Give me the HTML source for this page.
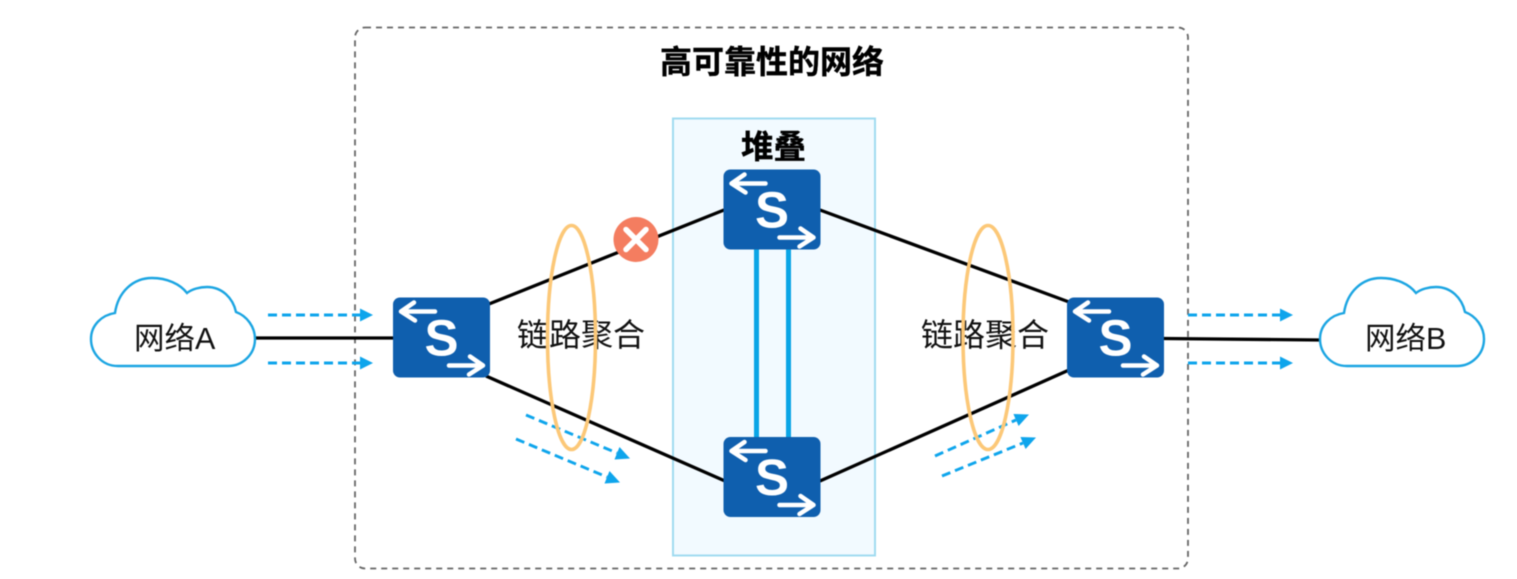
<!DOCTYPE html>
<html>
<head>
<meta charset="utf-8">
<style>
html,body{margin:0;padding:0;background:#fff;width:1517px;height:579px;overflow:hidden}
svg{display:block;filter:blur(.5px)}
text{font-family:"Liberation Sans","Noto Sans CJK SC",sans-serif;fill:#111}
.b{font-weight:700;fill:#000;stroke:#000;stroke-width:.4}
.s{font-weight:700;font-size:51px;fill:#fff;text-anchor:middle}
.a{fill:none;stroke:#fff;stroke-width:4.500;stroke-linecap:round;stroke-linejoin:round}
.k{stroke:#000;stroke-width:3.300;fill:none}
.d{stroke:#0ea5ec;stroke-width:2.900;stroke-dasharray:9 5;fill:none}
.h{fill:#0ea5ec}
.c{fill:#fff;stroke:#1ba5e2;stroke-width:2.400}
.e{fill:none;stroke:#fcc878;stroke-width:3.600}
</style>
</head>
<body>
<svg width="1517" height="579" viewBox="0 0 1517 579" xmlns="http://www.w3.org/2000/svg">
<rect x="355" y="27.500" width="833" height="541" rx="10" fill="#fff" stroke="#666" stroke-width="1.800" stroke-dasharray="6 5"/>
<rect x="673" y="118.500" width="202" height="437" fill="#f2faff" stroke="#a0dbf0" stroke-width="2"/>

<line x1="756.500" y1="245" x2="756.500" y2="440" stroke="#0aa5e6" stroke-width="5"/>
<line x1="788.500" y1="245" x2="788.500" y2="440" stroke="#0aa5e6" stroke-width="5"/>

<line class="k" x1="255" y1="338" x2="395" y2="338"/>
<line class="k" x1="1162" y1="338.500" x2="1320" y2="340"/>
<line class="k" x1="489" y1="304" x2="724" y2="210"/>
<line class="k" x1="486" y1="376" x2="725" y2="481"/>
<line class="k" x1="820" y1="210" x2="1069" y2="302"/>
<line class="k" x1="820" y1="481" x2="1069" y2="370"/>

<path class="c" d="M118 366C101 366 91 352 91 339C91 325 102 315 115 313C118 292 133 278 152 278C167 278 180 284 187 293C192 289 200 287 207 287C222 287 233 298 236 312C247 316 255 327 255 339C255 354 243 366 228 366Z"/>
<path class="c" transform="translate(1229 0)" d="M118 366C101 366 91 352 91 339C91 325 102 315 115 313C118 292 133 278 152 278C167 278 180 284 187 293C192 289 200 287 207 287C222 287 233 298 236 312C247 316 255 327 255 339C255 354 243 366 228 366Z"/>

<text x="134" y="349" font-size="30.500">网络A</text>
<text x="1365" y="349" font-size="30.500">网络B</text>

<!-- horizontal dashed arrows -->
<line class="d" x1="268" y1="315" x2="360" y2="315"/><polygon class="h" points="360,308.500 373,315 360,321.500"/>
<line class="d" x1="268" y1="363" x2="360" y2="363"/><polygon class="h" points="360,356.500 373,363 360,369.500"/>
<line class="d" x1="1188" y1="315" x2="1280" y2="315"/><polygon class="h" points="1280,308.500 1293,315 1280,321.500"/>
<line class="d" x1="1188" y1="363" x2="1280" y2="363"/><polygon class="h" points="1280,356.500 1293,363 1280,369.500"/>

<!-- diagonal dashed arrows -->
<line class="d" x1="526" y1="415" x2="617" y2="453"/><polygon class="h" points="630,458.500 614.500,459.500 619.500,447"/>
<line class="d" x1="516" y1="439" x2="607" y2="477"/><polygon class="h" points="620,482.500 604.500,483.500 609.500,471"/>
<line class="d" x1="935" y1="456" x2="1016" y2="420"/><polygon class="h" points="1029,414.500 1018.600,426 1013.400,414"/>
<line class="d" x1="942" y1="476" x2="1023" y2="443"/><polygon class="h" points="1036,437.500 1025.600,449 1020.400,437"/>

<text x="517" y="346" font-size="32">链路聚合</text>
<text x="921" y="346" font-size="32">链路聚合</text>

<ellipse class="e" cx="571.500" cy="337.500" rx="24" ry="112"/>
<ellipse class="e" cx="988" cy="337.500" rx="25" ry="112"/>

<circle cx="636" cy="239.500" r="22.500" fill="#f47d60"/>
<path d="M626 229.500L646 249.500M646 229.500L626 249.500" stroke="#fff" stroke-width="5.500" stroke-linecap="round"/>

<text class="b" x="660" y="73" font-size="32">高可靠性的网络</text>
<text class="b" x="741" y="158" font-size="32.500">堆叠</text>

<!-- left switch -->
<g transform="translate(393 297.500)">
<rect width="97" height="80" rx="7" fill="#0f5fae"/>
<path class="a" d="M42 14H8M21 5L8 14L22 23"/>
<path class="a" d="M56 68H90M77 59L90 68L76 77"/>
<text class="s" x="48.500" y="58">S</text>
</g>
<!-- top switch -->
<g transform="translate(723.500 169.500)">
<rect width="97" height="80" rx="7" fill="#0f5fae"/>
<path class="a" d="M42 14H8M21 5L8 14L22 23"/>
<path class="a" d="M56 68H90M77 59L90 68L76 77"/>
<text class="s" x="48.500" y="58">S</text>
</g>
<!-- bottom switch -->
<g transform="translate(723.500 437)">
<rect width="97" height="80" rx="7" fill="#0f5fae"/>
<path class="a" d="M42 14H8M21 5L8 14L22 23"/>
<path class="a" d="M56 68H90M77 59L90 68L76 77"/>
<text class="s" x="48.500" y="58">S</text>
</g>
<!-- right switch -->
<g transform="translate(1067 297.500)">
<rect width="97" height="80" rx="7" fill="#0f5fae"/>
<path class="a" d="M42 14H8M21 5L8 14L22 23"/>
<path class="a" d="M56 68H90M77 59L90 68L76 77"/>
<text class="s" x="48.500" y="58">S</text>
</g>
</svg>
</body>
</html>
